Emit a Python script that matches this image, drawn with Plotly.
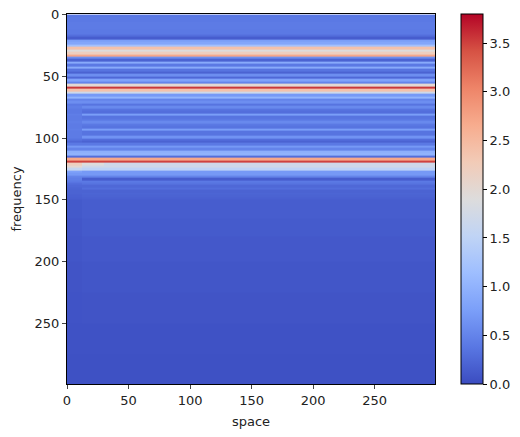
import plotly.graph_objects as go

# coolwarm
coolwarm = [[0.0, "#3b4cc0"], [0.1, "#5977e3"], [0.2, "#7b9ff9"], [0.3, "#9ebeff"], [0.4, "#c0d4f5"],
            [0.5, "#dddcdc"], [0.6, "#f2cbb7"], [0.7, "#f7ac8e"], [0.8, "#ee8468"], [0.9, "#d65244"], [1.0, "#b40426"]]

# cell edges
space_edges = [0, 12, 30, 300]
freq_edges = list(range(0, 150, 2)) + [150, 165, 180, 200, 225, 250, 275, 300]

right = [.38, .40, .40, .42, .42, .42, .40, .40, .30, .15, .75, .85, 1.2, 2.4, 1.9, 2.2, 2.7, .6, .2, .9,
         .4, .9, .35, .2, .6, .25, .8, .5, 2.0, 3.55, 2.4, 1.7, .7, 1.0, .5, .6, .35, .55, .35, .3,
         .75, .35, .4, .55, .4, .35, .75, .35, .35, .65, .3, .2, .4, .7, .5, .95, 1.0, .3, 2.7, 3.5,
         1.7, 1.7, 1.5, .7, .7, .5, .15, .4, .35, .25, .3, .2, .22, .2, .18,
         .15, .13, .11, .09, .07, .05, .04]

# the first columns are blurrier below the first bands
left = [.38, .40, .40, .42, .42, .42, .40, .40, .30, .15, .75, .85, 1.2, 2.4, 1.9, 2.2, 2.7, .6, .2, .9,
        .4, .9, .35, .2, .6, .25, .8, .5, 2.0, 3.55, 2.4, 1.7, .7, 1.0, .5, .6, .4, .45, .4, .4,
        .45, .42, .42, .45, .42, .42, .45, .42, .42, .42, .35, .25, .4, .7, .5, .95, 1.0, .3, 2.7, 3.5,
        2.2, 2.0, 1.6, .8, .7, .5, .45, .4, .3, .25, .22, .2, .2, .18, .16,
        .12, .1, .09, .07, .06, .05, .04]

middle = [.38, .40, .40, .42, .42, .42, .40, .40, .30, .15, .75, .85, 1.2, 2.4, 1.9, 2.2, 2.7, .6, .2, .9,
          .4, .9, .35, .2, .6, .25, .8, .5, 2.0, 3.55, 2.4, 1.7, .7, 1.0, .5, .6, .35, .55, .35, .3,
          .75, .35, .4, .55, .4, .35, .75, .35, .35, .65, .3, .2, .4, .7, .5, .95, 1.0, .3, 2.7, 3.5,
          1.9, 1.7, 1.5, .7, .7, .5, .15, .4, .35, .25, .3, .2, .22, .2, .18,
          .15, .13, .11, .09, .07, .05, .04]

z = [list(row) for row in zip(left, middle, right)]

fig = go.Figure(go.Heatmap(
    x=space_edges, y=freq_edges, z=z, colorscale=coolwarm, zmin=0, zmax=3.8,
    colorbar=dict(thickness=22, len=1, lenmode="fraction", x=1.0707, xanchor="left", y=0.5, yanchor="middle",
                  outlinecolor="black", outlinewidth=1, ticks="outside", ticklen=4, tickcolor="black",
                  tick0=0, dtick=0.5, tickformat=".1f", ypad=0, xpad=0,
                  tickfont=dict(size=13, color="#222")),
))

# page has a body margin of 8px, so the sizes are 8 less than the window
fig.update_layout(
    width=512, height=429, margin=dict(l=59, r=85, t=6, b=53, autoexpand=False),
    plot_bgcolor="white", paper_bgcolor="white",
    font=dict(family="DejaVu Sans", size=13, color="#222"),
)
fig.update_xaxes(title=dict(text="space", standoff=10, font=dict(size=13)), range=[0, 299], tick0=0, dtick=50,
                 ticks="outside", ticklen=4, showline=True, mirror=True, linecolor="black", linewidth=1,
                 showgrid=False, zeroline=False, automargin=False, ticklabeloverflow="allow")
fig.update_yaxes(title=dict(text="frequency", standoff=10, font=dict(size=13)), range=[299, -0.5], tick0=0, dtick=50,
                 ticks="outside", ticklen=4, showline=True, mirror=True, linecolor="black", linewidth=1,
                 showgrid=False, zeroline=False, automargin=False, ticklabeloverflow="allow")

fig.write_html("out.html")
